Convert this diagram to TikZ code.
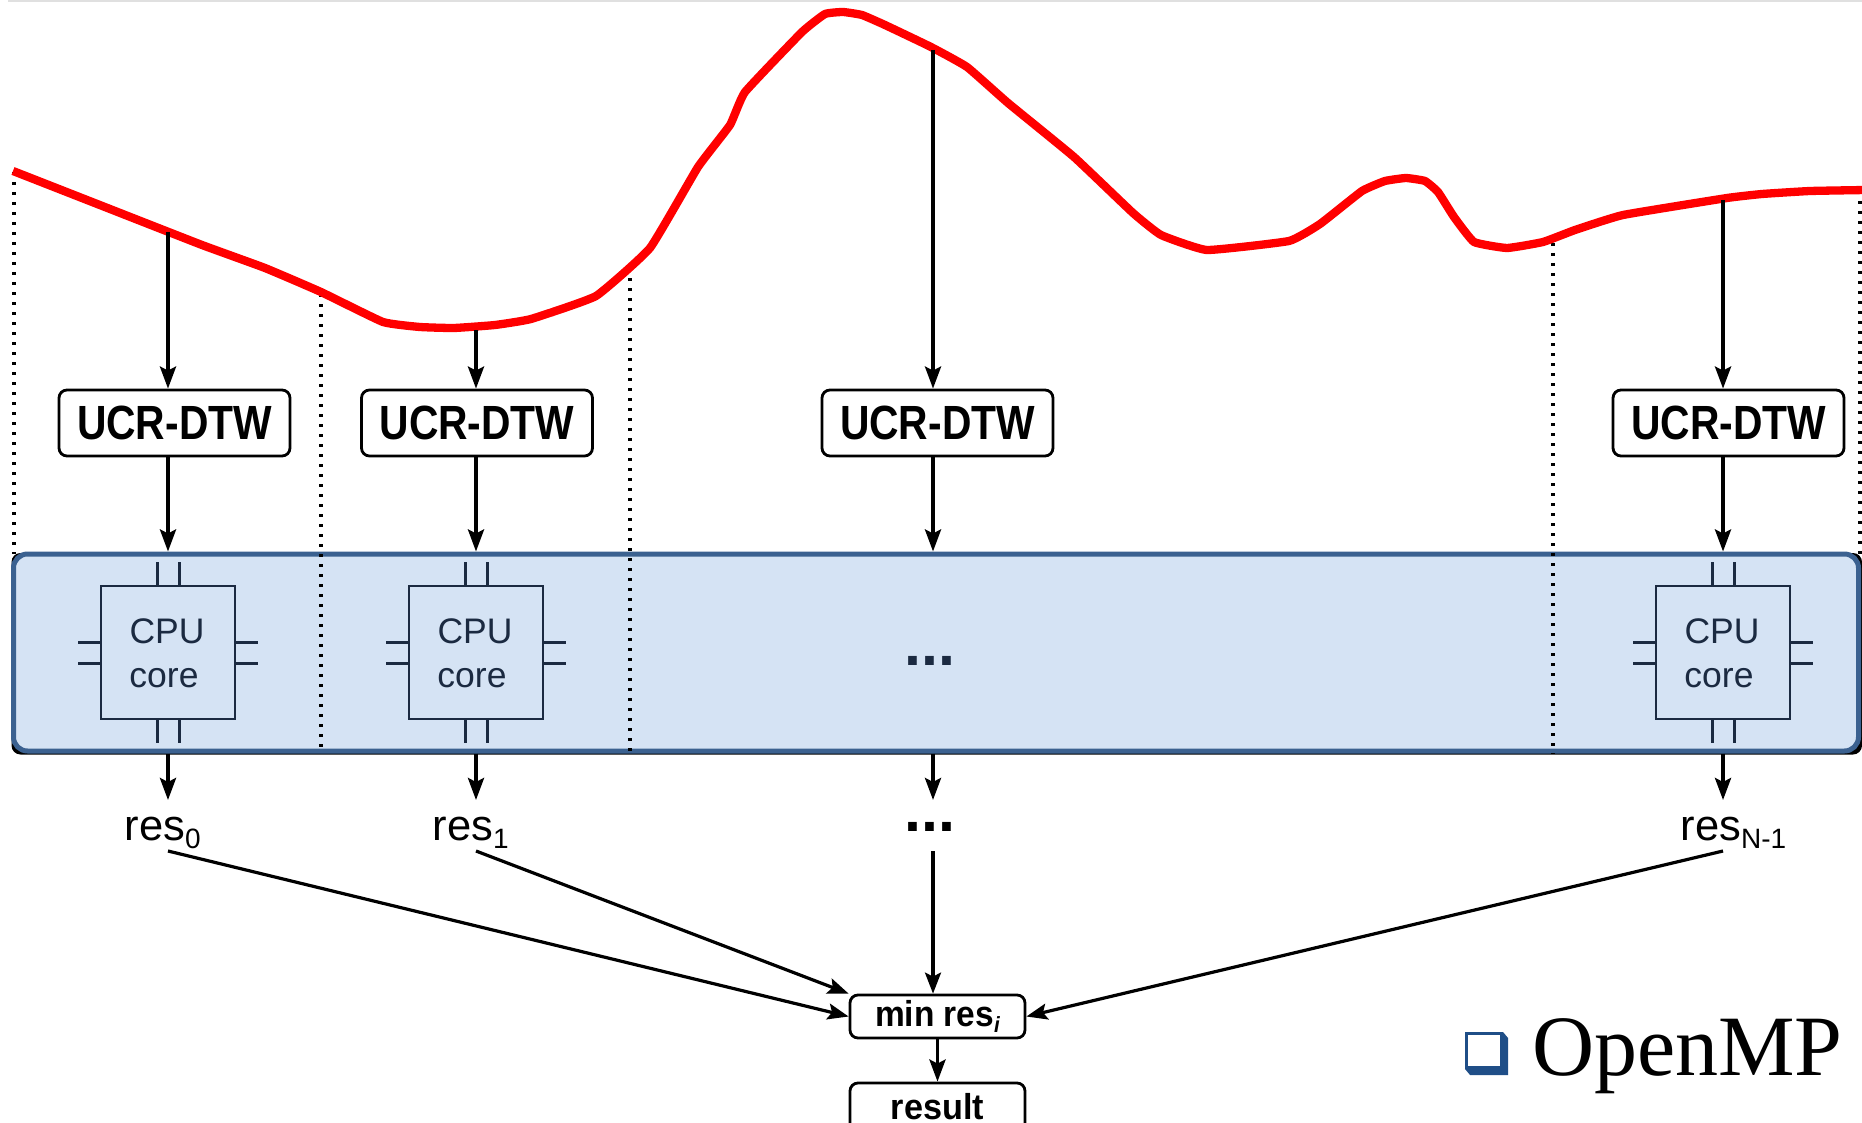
\documentclass[tikz,border=0pt]{standalone}
\usepackage{fontspec}
\setmainfont{Liberation Sans}
\newfontfamily\serifface{Liberation Serif}
\usetikzlibrary{arrows.meta,calc}
\definecolor{bandfill}{HTML}{D5E3F4}
\definecolor{bandline}{HTML}{3B6190}
\definecolor{cpuline}{HTML}{1B2A41}
\definecolor{ompblue}{HTML}{1F4E87}
\tikzset{
  flow/.style={line width=3.8pt,-{Stealth[length=22pt,width=16pt,inset=4pt]}},
  feed/.style={line width=3.2pt,-{Stealth[length=21pt,width=16pt,inset=4pt]}},
  sep/.style={line width=3.2pt,dash pattern=on 3.2pt off 6.8pt,black},
  ucrbox/.style={draw=black,fill=white,line width=2.8pt,rounded corners=8pt,minimum width=231pt,minimum height=66pt,inner sep=0pt},
  smallbox/.style={draw=black,fill=white,line width=2.8pt,rounded corners=8pt,minimum width=175pt,inner sep=0pt},
  cpubox/.style={draw=cpuline,line width=2.6pt,minimum width=134pt,minimum height=133pt,inner sep=0pt},
  pin/.style={draw=cpuline,line width=3pt},
  cputext/.style={text=cpuline,font=\fontsize{35.5}{35.5}\selectfont,inner sep=0pt},
  restext/.style={font=\fontsize{43.5}{43.5}\selectfont,inner sep=0pt,anchor=base west},
  dotstext/.style={font=\fontsize{61}{61}\bfseries\selectfont,inner sep=0pt,anchor=base}
}
\newcommand{\ucrlabel}{\scalebox{0.85}[1]{\fontsize{48}{48}\bfseries\selectfont UCR-DTW}}
\newcommand{\ressub}[1]{\raisebox{-8pt}{\fontsize{28}{28}\selectfont #1}}
\begin{document}
\begin{tikzpicture}[x=1pt,y=-1pt]
\useasboundingbox (0,0) rectangle (1862,1123);
\clip (0,0) rectangle (1862,1123);
\fill[black!12] (8,0) rectangle (1862,2);

% dotted separators above and through the band
\coordinate (s0top) at (14,172);
\coordinate (s1top) at (321,294);
\coordinate (s2top) at (630,268);
\coordinate (s3top) at (1553,243);
\coordinate (s4top) at (1860,191);

\draw[sep] (s0top) -- (14,554);
\draw[sep] (s4top) -- (1860,554);

% band
\fill[black,rounded corners=9pt] (11.5,553) rectangle (1862,754.5);
\node[draw=bandline,fill=bandfill,line width=5pt,rounded corners=14pt,minimum width=1845pt,minimum height=197pt,inner sep=0pt] (band) at (936,652.5) {};

\foreach \s in {s1top,s2top,s3top}{
  \draw[sep] (\s) -- (\s |- band.south);
}

% signal
\draw[red,line width=8.3pt,line join=round] plot[smooth,tension=0.22] coordinates {
 (13,171) (110,209) (202,245) (265,268) (321,292) (383,322) (420,327) (454,328) (495,325) (531,319) (596,296)
 (650,248) (698,167) (730,125) (745,92) (802,32) (825,14) (843,12) (862,15) (885,25) (931,47) (967,67)
 (1008,103) (1074,157) (1133,213) (1161,235) (1207,250) (1289,241) (1320,224) (1362,191)
 (1385,181) (1406,178) (1425,181) (1438,192) (1454,217) (1474,242) (1507,248) (1543,242) (1575,230) (1623,215)
 (1727,198) (1762,194) (1810,191) (1866,190)};

% arrow columns
\coordinate (c1) at (168,232);
\coordinate (c2) at (476,330);
\coordinate (c3) at (933,50);
\coordinate (c4) at (1723,200);

% UCR-DTW
\node[ucrbox] (ucr1) at (174.5,423) {\ucrlabel};
\node[ucrbox] (ucr2) at (477,423) {\ucrlabel};
\node[ucrbox] (ucr3) at (937.5,423) {\ucrlabel};
\node[ucrbox] (ucr4) at (1728.5,423) {\ucrlabel};

% CPU cores
\foreach \n/\x in {a/168,b/476,d/1723}{
  \node[cpubox] (cpu\n) at (\x,652.5) {};
  \foreach \dx in {-11,11}{
    \draw[pin] ($(cpu\n.north)+(\dx,0)$) -- ++(0,-23);
    \draw[pin] ($(cpu\n.south)+(\dx,0)$) -- ++(0,23);
  }
  \foreach \dy in {-10.5,10.5}{
    \draw[pin] ($(cpu\n.west)+(0,\dy)$) -- ++(-22,0);
    \draw[pin] ($(cpu\n.east)+(0,\dy)$) -- ++(22,0);
  }
  \node[cputext] (cpu\n t) at ($(cpu\n.center)+(-1,-21.5)$) {CPU};
  \node[cputext] (cpu\n c) at ($(cpu\n.center)+(-4,26)$) {core};
}

\node[dotstext,text=cpuline] (dotsa) at (930,665) {...};

% result labels
\node[restext] (res0) at (124.5,840) {res\ressub{0}};
\node[restext] (res1) at (432.5,840) {res\ressub{1}};
\node[dotstext] (dotsb) at (930,831) {...};
\node[restext] (resn) at (1680.5,840) {res\ressub{N-1}};

% lower boxes
\node[smallbox,minimum height=43pt] (minbox) at (937.5,1016.5) {\raisebox{-1pt}{\scalebox{0.93}[1]{\fontsize{36}{36}\bfseries\selectfont min res\raisebox{-6pt}{\fontsize{22}{22}\bfseries\itshape\selectfont i}}}};
\node[smallbox,minimum height=60pt] (resultbox) at (937.5,1113) {\raisebox{14pt}{\scalebox{0.95}[1]{\fontsize{36}{36}\bfseries\selectfont result}}};

% connectors
\coordinate (out) at (0,800);
\coordinate (tail) at (0,851);
\draw[flow] (c1) -- (c1 |- ucr1.north);
\draw[flow] (c2) -- (c2 |- ucr2.north);
\draw[flow] (c3) -- (c3 |- ucr3.north);
\draw[flow] (c4) -- (c4 |- ucr4.north);
\draw[flow] (c1 |- ucr1.south) -- (c1 |- band.north);
\draw[flow] (c2 |- ucr2.south) -- (c2 |- band.north);
\draw[flow] (c3 |- ucr3.south) -- (c3 |- band.north);
\draw[flow] (c4 |- ucr4.south) -- (c4 |- band.north);
\draw[flow] (c1 |- band.south) -- (c1 |- out);
\draw[flow] (c2 |- band.south) -- (c2 |- out);
\draw[flow] (c3 |- band.south) -- (c3 |- out);
\draw[flow] (c4 |- band.south) -- (c4 |- out);
\draw[feed] (c1 |- tail) -- (minbox.west);
\draw[feed] (c2 |- tail) -- (minbox.north west);
\draw[feed] (c3 |- tail) -- (c3 |- minbox.north);
\draw[feed] (c4 |- tail) -- (minbox.east);
\draw[flow] (minbox.south) -- (resultbox.north);

% OpenMP bullet and title
\path[fill=ompblue] (1465,1032) -- (1503,1032) -- (1508,1038) -- (1508,1075) -- (1470,1075) -- (1465,1069) -- cycle;
\fill[white] (1468,1035) rectangle (1500,1066);
\node[inner sep=0pt,anchor=base west,font=\serifface\fontsize{86}{86}\selectfont] (omp) at (1532,1075) {OpenMP};
\end{tikzpicture}
\end{document}
